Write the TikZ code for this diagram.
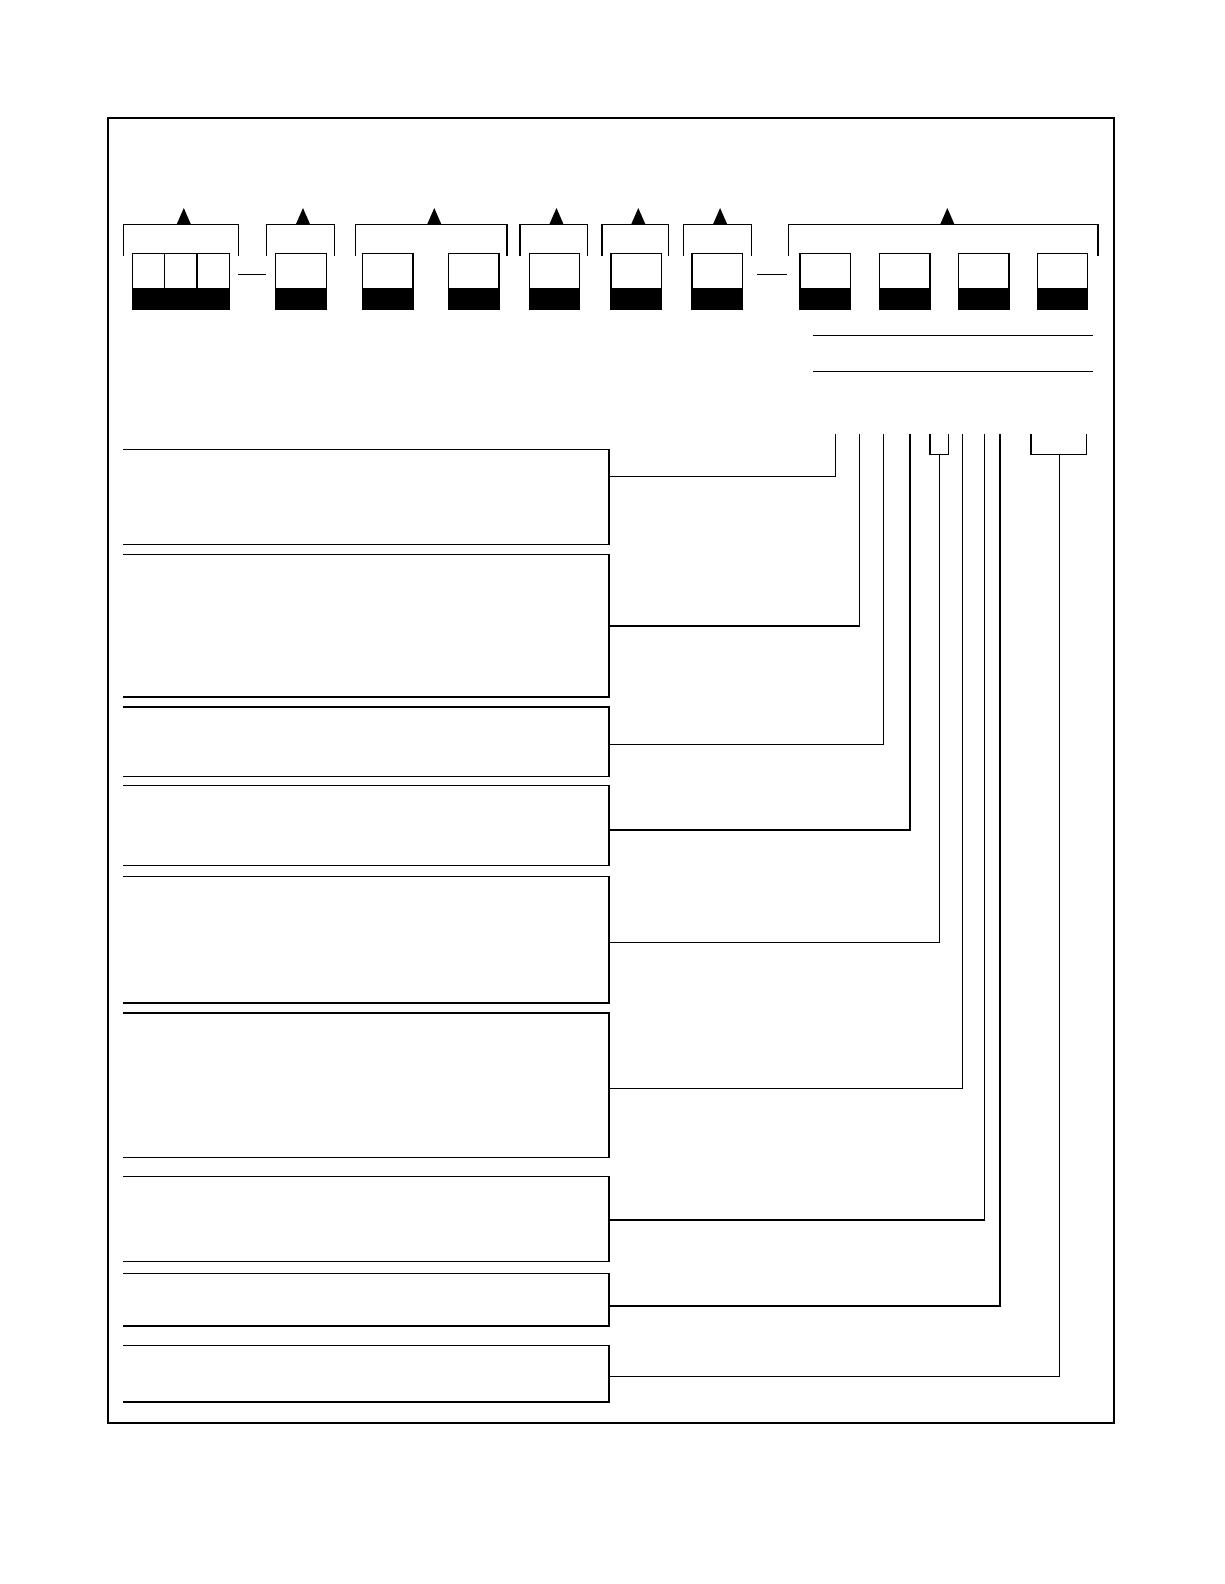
\documentclass[tikz,border=0pt]{standalone}
\usetikzlibrary{calc}
\tikzset{
	formline/.style={line width=0.7pt},
	ink/.style={fill=black}
}
\begin{document}
\begin{tikzpicture}[x=0.505pt,y=-0.505pt,formline]
		\useasboundingbox (0,0) rectangle (1212,1568.4);
		\draw [line width=1pt] (107,117) rectangle (1103,1409);
		\foreach \a/\b/\m in {122/236/182,264/331/300,352/502/430,515/582/551,596/662/632,677/744/713,781/1087/938}{
			\draw (\a,253) |- (\b,222) -- (\b,253);
			\fill [ink] (\m-7,222) -- (\m,206) -- (\m+7,222) -- cycle;
		}
		\foreach \x in {131,163,195}
			\draw (\x,251) rectangle +(32,55);
		\fill [ink] (131,285) rectangle (227,306);
		\foreach \x in {273,359,444,524,605,685,792,871,949,1027}{
			\draw (\x,251) rectangle +(50,55);
			\fill [ink] (\x,285) rectangle +(50,21);
		}
		\draw (236,272) -- (263,272) (750,272) -- (779,272);
		\draw (805,332) -- (1082,332) (805,368) -- (1082,368);
		\draw (921,430) |- (939,450) -- (939,430) (1021,430) |- (1076,450) -- (1076,430);
		\foreach \t/\b/\c/\x/\e [count=\i] in {445/539/472/827/430,549/690/620/851/430,700/769/737/875/430,778/857/822/901/430,868/993/933/930/450,1003/1146/1078/953/430,1165/1249/1208/975/430,1261/1313/1293/990/430,1332/1388/1363/1049/450}{
			\draw (122,\t) -| (603,\b) -- (122,\b);
			\coordinate (from\i) at (603,\c);
			\coordinate (tick\i) at (\x,\e);
			\draw (from\i) -| (tick\i);
		}
\end{tikzpicture}
\end{document}
